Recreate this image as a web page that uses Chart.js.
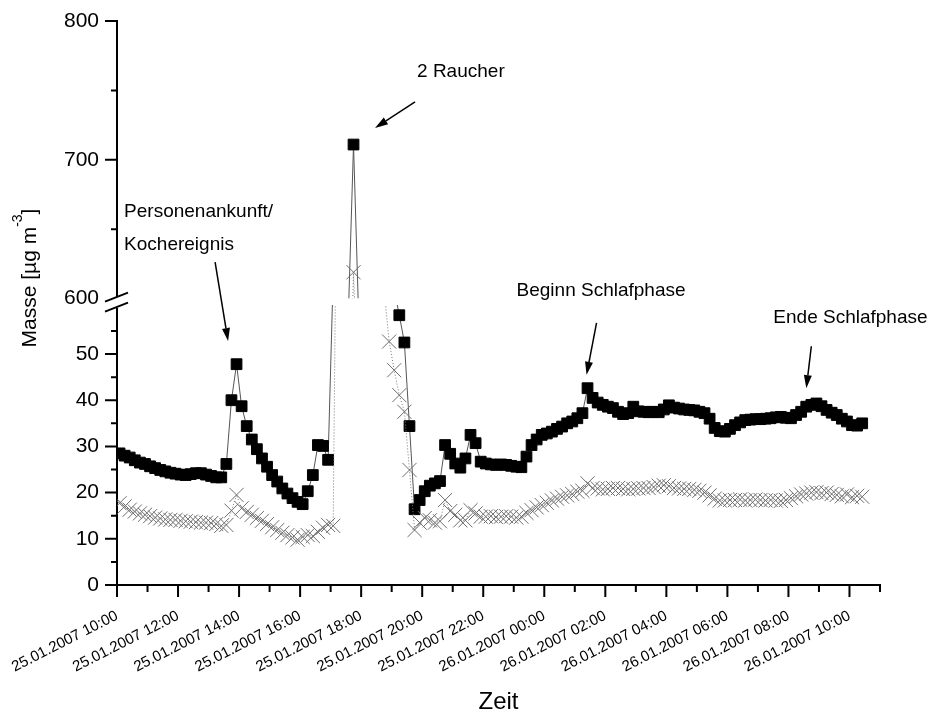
<!DOCTYPE html>
<html>
<head>
<meta charset="utf-8">
<script src="https://cdn.jsdelivr.net/npm/chart.js@4.4.0/dist/chart.umd.min.js"></script>
<style>
  html, body { margin: 0; padding: 0; background: #fff; }
  #wrap { width: 935px; height: 718px; position: relative; }
</style>
</head>
<body>
<div id="wrap"><canvas id="massChart"></canvas></div>
<script>
// =======================================================================
// DATA (one sample every 10 minutes, first one at 25.01.2007 10:05)
// =======================================================================
const startHour = 5 / 60;      // hours after 25.01.2007 10:00
const stepHours = 10 / 60;

// black squares
const blackValues = [
  28.5, 28.0, 27.6, 27.0, 26.5, 26.2, 25.7, 25.3, 24.9, 24.6,
  24.3, 24.1, 23.9, 23.8, 24.0, 24.2, 24.2, 23.9, 23.6, 23.3,
  23.3, 26.2, 40.0, 47.8, 38.7, 34.4, 31.5, 29.4, 27.4, 25.6,
  23.8, 22.4, 20.9, 19.8, 18.8, 18.0, 17.5, 20.3, 23.8, 30.3,
  30.1, 27.1, 67, 250, 420, 590, 711, 588, 480, 380,
  300, 220, 160, 110, 64, 58.4, 52.5, 34.4, 16.4, 18.4,
  20.3, 21.5, 22.0, 22.5, 30.3, 28.4, 26.3, 25.4, 27.4, 32.5,
  30.7, 26.7, 26.3, 26.1, 26.0, 26.1, 26.0, 25.8, 25.6, 25.5,
  27.8, 30.3, 31.5, 32.5, 32.8, 33.2, 33.8, 34.3, 35.0, 35.4,
  36.1, 37.2, 42.6, 40.5, 39.5, 39.0, 38.6, 38.3, 37.5, 37.0,
  37.2, 38.6, 37.6, 37.5, 37.4, 37.5, 37.4, 38.0, 38.9, 38.4,
  38.2, 38.0, 37.9, 37.8, 37.5, 37.2, 36.0, 34.0, 33.3, 33.2,
  33.8, 34.6, 35.2, 35.7, 35.8, 35.9, 35.9, 36.0, 36.1, 36.3,
  36.4, 36.2, 36.1, 36.8, 37.5, 38.6, 39.0, 39.3, 38.7, 37.9,
  37.3, 36.8, 36.0, 35.4, 34.6, 34.5, 35.0
];

// grey crosses
const greyValues = [
  17.7, 17.0, 16.3, 15.9, 15.5, 15.2, 14.9, 14.6, 14.4, 14.2,
  14.1, 14.1, 13.9, 13.8, 13.7, 13.6, 13.5, 13.5, 13.4, 13.2,
  12.8, 13.0, 16.1, 19.5, 16.6, 15.8, 15.2, 14.5, 13.9, 13.2,
  12.5, 11.9, 11.3, 10.8, 10.3, 9.8, 10.4, 10.8, 10.6, 11.5,
  12.4, 13.0, 12.8, 130, 330, 480, 619, 520, 400, 300,
  210, 140, 64, 52.7, 46.5, 41.1, 37.5, 24.9, 11.9, 13.5,
  14.5, 14.0, 13.5, 13.8, 18.4, 16.0, 15.2, 14.0, 14.0, 16.2,
  15.5, 14.8, 14.8, 14.9, 14.7, 14.8, 14.9, 14.8, 14.6, 14.8,
  15.6, 16.2, 16.8, 17.3, 17.8, 18.3, 18.7, 19.1, 19.4, 19.7,
  20.2, 20.4, 22.0, 21.0, 20.9, 20.7, 20.8, 21.0, 21.0, 20.8,
  20.7, 20.8, 20.9, 21.0, 21.0, 21.2, 21.5, 21.6, 21.4, 21.0,
  20.9, 20.8, 20.8, 20.6, 20.4, 20.0, 19.4, 18.7, 18.3, 18.3,
  18.4, 18.4, 18.5, 18.3, 18.4, 18.5, 18.4, 18.3, 18.4, 18.3,
  18.2, 18.4, 18.8, 19.2, 19.6, 19.8, 20.0, 20.1, 19.9, 20.0,
  19.7, 19.5, 19.2, 19.6, 19.0, 19.3, 19.1
];

const xTickLabels = [
  '25.01.2007 10:00', '25.01.2007 12:00', '25.01.2007 14:00', '25.01.2007 16:00',
  '25.01.2007 18:00', '25.01.2007 20:00', '25.01.2007 22:00', '26.01.2007 00:00',
  '26.01.2007 02:00', '26.01.2007 04:00', '26.01.2007 06:00', '26.01.2007 08:00',
  '26.01.2007 10:00'
];
const yLowLabels = [0, 10, 20, 30, 40, 50];
const yHighLabels = [600, 700, 800];

// annotations: arrow tip in data space, tail/text as pixel offsets from the tip
const notes = [
  { lines: ['Personenankunft/', 'Kochereignis'], t: 3.64, v: 52.8, axis: 'yLow', tail: [-13, -79], text: [-104, -124] },
  { lines: ['2 Raucher'], t: 8.455, v: 723, axis: 'yHigh', tail: [40, -26], text: [42, -51] },
  { lines: ['Beginn Schlafphase'], t: 15.385, v: 45.5, axis: 'yLow', tail: [10, -52], text: [-70, -79] },
  { lines: ['Ende Schlafphase'], t: 22.586, v: 42.6, axis: 'yLow', tail: [5, -42], text: [-33, -65] }
];

// =======================================================================
// CHART
// =======================================================================
const FONT = '"Liberation Sans", Arial, sans-serif';
const lowClipValue = 60.6;   // lower panel shows data up to here

const toPoints = vals => vals.map((v, i) => ({ x: startHour + i * stepHours, y: v }));

function blackSet(axis) {
  return {
    data: toPoints(blackValues), yAxisID: axis, panel: axis,
    borderColor: '#555', borderWidth: 1,
    pointStyle: 'rect', pointRadius: 7.6, pointBorderWidth: 1,
    pointBackgroundColor: '#000', pointBorderColor: '#000'
  };
}
function greySet(axis) {
  return {
    data: toPoints(greyValues), yAxisID: axis, panel: axis,
    borderColor: '#777', borderWidth: 1, borderDash: [1, 2],
    pointStyle: 'crossRot', pointRadius: 10, pointBorderWidth: 1,
    pointBackgroundColor: 'rgba(0,0,0,0)', pointBorderColor: '#6e6e6e'
  };
}

function drawArrow(c, x1, y1, x2, y2) {
  const a = Math.atan2(y2 - y1, x2 - x1);
  const len = 13, half = 4;
  const bx = x2 - len * Math.cos(a), by = y2 - len * Math.sin(a);
  c.beginPath();
  c.moveTo(x1, y1);
  c.lineTo(bx, by);
  c.stroke();
  c.beginPath();
  c.moveTo(x2, y2);
  c.lineTo(bx + half * Math.sin(a), by - half * Math.cos(a));
  c.lineTo(bx - half * Math.sin(a), by + half * Math.cos(a));
  c.closePath();
  c.fill();
}

const brokenAxisPlugin = {
  id: 'brokenAxis',
  beforeDatasetDraw(chart, args) {
    const ds = chart.data.datasets[args.index];
    const area = chart.chartArea;
    const c = chart.ctx;
    c.save();
    c.beginPath();
    if (ds.panel === 'yLow') {
      const top = chart.scales.yLow.getPixelForValue(lowClipValue);
      c.rect(area.left, top, area.right - area.left, area.bottom - top);
    } else {
      const bottom = chart.scales.yHigh.bottom;
      c.rect(area.left, area.top, area.right - area.left, bottom - area.top);
    }
    c.clip();
  },
  afterDatasetDraw(chart) {
    chart.ctx.restore();
  },
  afterDraw(chart) {
    const c = chart.ctx;
    const area = chart.chartArea;
    const { x, yLow, yHigh } = chart.scales;
    c.save();
    c.strokeStyle = '#000';
    c.fillStyle = '#000';
    c.lineWidth = 2;

    // tick marks (major long, minor short), pointing outwards
    c.beginPath();
    for (let h = 0; h <= 25; h++) {
      const px = x.getPixelForValue(h);
      c.moveTo(px, area.bottom);
      c.lineTo(px, area.bottom + (h % 2 === 0 ? 12 : 7));
    }
    for (let v = 0; v <= 55; v += 5) {
      const py = yLow.getPixelForValue(v);
      c.moveTo(area.left, py);
      c.lineTo(area.left - (v % 10 === 0 ? 12 : 6), py);
    }
    for (let v = 650; v <= 800; v += 50) {
      const py = yHigh.getPixelForValue(v);
      c.moveTo(area.left, py);
      c.lineTo(area.left - (v % 100 === 0 ? 12 : 6), py);
    }
    c.stroke();

    // axis break marks
    const b = yHigh.bottom, ax = area.left;
    c.fillStyle = '#fff';
    c.beginPath();
    c.moveTo(ax - 12, b + 3);
    c.lineTo(ax + 11, b - 6);
    c.lineTo(ax + 11, b + 5);
    c.lineTo(ax - 12, b + 14);
    c.closePath();
    c.fill();
    c.beginPath();
    c.moveTo(ax - 12, b + 3);
    c.lineTo(ax + 11, b - 6);
    c.moveTo(ax - 12, b + 13);
    c.lineTo(ax + 11, b + 4);
    c.stroke();

    // y axis title with superscript
    c.fillStyle = '#000';
    c.translate(35.5, 278);
    c.rotate(-Math.PI / 2);
    c.textAlign = 'left';
    c.textBaseline = 'alphabetic';
    const big = '21px ' + FONT, small = '14px ' + FONT;
    c.font = big;
    const wMain = c.measureText('Masse [µg m').width;
    const wEnd = c.measureText(']').width;
    c.font = small;
    const wSup = c.measureText('-3').width;
    let tx = -(wMain + wSup + wEnd) / 2;
    c.font = big;
    c.fillText('Masse [µg m', tx, 0);
    tx += wMain;
    c.font = small;
    c.fillText('-3', tx, -14);
    tx += wSup;
    c.font = big;
    c.fillText(']', tx, 0);
    c.setTransform(1, 0, 0, 1, 0, 0);
    c.restore();

    // annotations
    c.save();
    c.strokeStyle = '#000';
    c.fillStyle = '#000';
    c.lineWidth = 1.5;
    c.font = '19px ' + FONT;
    c.textAlign = 'left';
    c.textBaseline = 'alphabetic';
    notes.forEach(n => {
      const tipX = x.getPixelForValue(n.t);
      const tipY = chart.scales[n.axis].getPixelForValue(n.v);
      drawArrow(c, tipX + n.tail[0], tipY + n.tail[1], tipX, tipY);
      n.lines.forEach((line, k) => {
        c.fillText(line, tipX + n.text[0], tipY + n.text[1] + k * 32.5);
      });
    });
    c.restore();
  }
};

const axisBase = {
  border: { display: true, color: '#000', width: 2 },
  grid: { display: true, drawOnChartArea: false, drawTicks: true, tickLength: 12, tickColor: 'rgba(0,0,0,0)' }
};

const ctxMass = document.getElementById('massChart').getContext('2d');
window.massChart = new Chart(ctxMass, {
  type: 'line',
  data: {
    datasets: [greySet('yLow'), greySet('yHigh'), blackSet('yLow'), blackSet('yHigh')]
  },
  options: {
    responsive: true,
    maintainAspectRatio: false,
    animation: false,
    events: [],
    layout: { padding: { top: 21, right: 55, bottom: 0, left: 0 } },
    plugins: { legend: { display: false }, tooltip: { enabled: false } },
    elements: { line: { tension: 0 } },
    scales: {
      x: {
        ...axisBase,
        type: 'linear', min: 0, max: 25,
        ticks: {
          stepSize: 1, autoSkip: false, minRotation: 27, maxRotation: 27, padding: 10,
          color: '#000', font: { family: FONT, size: 15 },
          callback: v => (v % 2 === 0 ? xTickLabels[v / 2] : '')
        },
        title: { display: true, text: 'Zeit', color: '#000', font: { family: FONT, size: 24 }, padding: { top: 0, bottom: 1 } },
        afterFit: s => { s.height = 133; }
      },
      yLow: {
        ...axisBase,
        type: 'linear', position: 'left', stack: 'mass', stackWeight: 286.4,
        min: 0, max: 62,
        ticks: {
          stepSize: 5, autoSkip: false, padding: 6, color: '#000', font: { family: FONT, size: 21 },
          callback: v => (yLowLabels.includes(v) ? String(v) : '')
        },
        afterFit: s => { s.width = 117; }
      },
      yHigh: {
        ...axisBase,
        type: 'linear', position: 'left', stack: 'mass', stackWeight: 277.6,
        min: 600, max: 800,
        ticks: {
          stepSize: 50, autoSkip: false, padding: 6, color: '#000', font: { family: FONT, size: 21 },
          callback: v => (yHighLabels.includes(v) ? String(v) : '')
        },
        afterFit: s => { s.width = 117; }
      }
    }
  },
  plugins: [brokenAxisPlugin]
});
</script>
</body>
</html>
